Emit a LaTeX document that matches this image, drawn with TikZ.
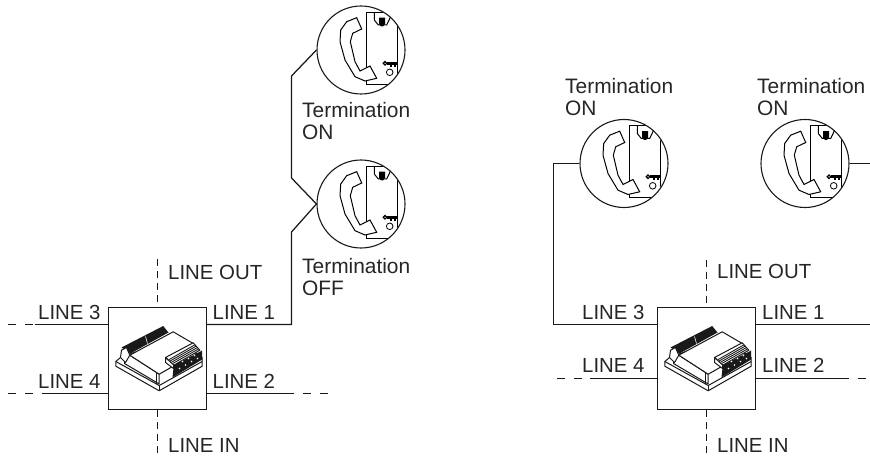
\documentclass[tikz,border=0pt]{standalone}
\usepackage{fontspec}
\setmainfont{Liberation Sans}
\usepackage{xcolor}
\tikzset{
    wire/.style={line width=1.25pt,draw=black!90},
    wiredash/.style={wire,dash pattern=on 8pt off 9pt},
    wirevert/.style={wire,dash pattern=on 7pt off 5pt},
    unitbox/.style={draw=black!90,line width=1.25pt,fill=white,minimum width=98pt,minimum height=102pt,inner sep=0pt},
    termring/.style={circle,draw=black!90,line width=1.1pt,minimum size=88pt,inner sep=0pt},
    linetext/.style={anchor=base west,inner sep=0pt,font=\fontsize{20.4}{22}\selectfont,text=black!85},
    termtext/.style={anchor=base west,inner sep=0pt,align=left,font=\fontsize{20.9}{22}\selectfont,text=black!85},
    phoneicon/.pic={
        \begin{scope}
            \clip (0,0) circle (43.5);
            \draw[line width=1pt] (5.7,19) -- (5.7,-37.7) -- (30,-37.7);
            \draw[line width=1pt] (5.7,30) -- (5.7,34.3) -- (32,34.3);
            \draw[line width=1pt] (36.7,-30) -- (36.7,34.3);
        \end{scope}
        \draw[line width=1pt] (13.3,-37.7) -- (13.3,-30) -- (17.3,-25) -- (25.7,-25) -- (29.5,-33);
        \fill (18,-32.3) -- (24,-32.3) -- (24,-26) -- (22,-23.5) -- (20,-23.5) -- (18,-26) -- cycle;
        \draw[line width=1pt,fill=white] (-4.3,-32.3) -- (0.7,-21) -- (-8.3,-16.7) -- (-10.7,-8.3) -- (-6,11.7) -- (-1,21) -- (9,16) -- (15.7,28.3) -- (4,31) -- (-6,26.7) -- (-16,10) -- (-21,-8.3) -- (-20.3,-20) -- (-14.3,-28.3) -- cycle;
        % key and lock
        \draw[line width=1.2pt] (24,13.3) circle (1.8);
        \fill (25.5,11.8) rectangle (36.7,14.8);
        \fill (29,14) rectangle (31,16.6);
        \fill (33,14) rectangle (35,16.6);
        \draw[line width=0.8pt] (28.7,22.3) circle (3.3);
    },
    deviceicon/.pic={
        \begin{scope}[line width=1pt,draw=black!90,line join=round]
            % base plate
            \draw[fill=white] (-41.7,3) -- (-41.7,7.7) -- (1.7,32.3) -- (44.7,7.7) -- (44.7,-1) -- (15,-20) -- (-37,-1) -- cycle;
            \draw (-41.7,3) -- (1.7,27) -- (44.7,3);
            \draw (1.7,27) -- (1.7,32.3);
            % body
            \draw[fill=white] (-32,-3) -- (-33,5) -- (1.7,25.5) -- (1.7,15.7) -- (-27.7,-3.3) -- cycle;
            \draw (-0.6,14) -- (-0.6,25);
            \draw[fill=white] (-27.7,-3.3) -- (1.7,15.7) -- (15.7,7.7) -- (8,1) -- (35.7,-15) -- (15.7,-26.7) -- cycle;
            % rail at the back
            \fill[black!90] (-36,-11) -- (5.7,-32.5) -- (11,-26) -- (-27,-5) -- cycle;
            \draw[fill=white] (-36,-8.3) -- (-37,-1) -- (-32,4) -- (-27.7,-3.3) -- (-31,-11) -- cycle;
            \draw[white,line width=0.6pt] (-12,-22) -- (-10,-15);
            % terminal block
            \fill[black!90] (16.3,6.7) -- (44.7,-8) -- (44.7,1) -- (15,19) -- cycle;
            \draw[fill=white] (8,-1) -- (35.7,-15.7) -- (42.3,-8.3) -- (16.3,6.7) -- cycle;
            \foreach \s in {0.2,0.4,0.6,0.8}{
                \draw[line width=0.9pt] ($(10,0)!\s!(17,6)$) -- ($(36,-15)!\s!(42,-8)$);
            }
            \draw[fill=white] (8,-1) -- (8,4) -- (16,10) -- (16.3,6.7) -- cycle;
            \foreach \p in {(22,10),(28,6.5),(34,3),(40,0),(25,3),(31,0),(37,-3)}{
                \fill[white] \p circle (0.8);
            }
        \end{scope}
    }
}
\usetikzlibrary{calc}
\begin{document}
\begin{tikzpicture}[x=1pt,y=-1pt]
    \useasboundingbox (0,0) rectangle (870,457);
    % junction units
    \node[unitbox] (unita) at (157.5,358.5) {};
    \node[unitbox] (unitb) at (706.5,358.5) {};
    \pic at (unita) {deviceicon};
    \pic at (unitb) {deviceicon};
    % termination discs
    \foreach \n/\x/\y in {ringa/361/50,ringb/361/204,ringc/624/163.5,ringd/805/163.5}{
        \node[termring] (\n) at (\x,\y) {};
        \pic at (\n) {phoneicon};
    }
    % left side connectors
    \coordinate (ab) at (291.5,324.5);
    \coordinate (ac) at (291.5,232);
    \coordinate (ad) at (291.5,178);
    \coordinate (ae) at (291.5,76);
    \draw[wire] (unita.east |- ab) -- (ab) -- (ac) -- (ringb.west) -- (ad) -- (ae) -- (ringa.west);
    \coordinate (af) at (35,324.5);
    \coordinate (ag) at (8,324.5);
    \draw[wire] (unita.west |- af) -- (af);
    \draw[wiredash] (ag) -- (af);
    \coordinate (ah) at (43,393.5);
    \coordinate (ai) at (8,393.5);
    \draw[wire] (unita.west |- ah) -- (ah);
    \draw[wiredash] (ai) -- (ah);
    \coordinate (aj) at (292,393.5);
    \coordinate (ak) at (328,393.5);
    \draw[wire] (unita.east |- aj) -- (aj);
    \draw[wiredash] (ak) -- (aj);
    \coordinate (al) at (157.5,259);
    \coordinate (am) at (157.5,456);
    \draw[wirevert] (al) -- (unita.north);
    \draw[wirevert] (unita.south) -- (am);
    % right side connectors
    \coordinate (ba) at (553.5,324.5);
    \coordinate (bb) at (553.5,163.5);
    \draw[wire] (unitb.west |- ba) -- (ba) -- (bb) -- (ringc.west);
    \coordinate (bc) at (870,324.5);
    \draw[wire] (unitb.east |- bc) -- (bc);
    \coordinate (bd) at (870,163.5);
    \draw[wire] (ringd.east) -- (bd);
    \coordinate (be) at (590,378.5);
    \coordinate (bf) at (557,378.5);
    \draw[wire] (unitb.west |- be) -- (be);
    \draw[wiredash] (bf) -- (be);
    \coordinate (bg) at (841,378.5);
    \coordinate (bh) at (870,378.5);
    \draw[wire] (unitb.east |- bg) -- (bg);
    \draw[wiredash] (bg) -- (bh);
    \coordinate (bi) at (706.5,260);
    \coordinate (bj) at (706.5,456);
    \draw[wirevert] (bi) -- (unitb.north);
    \draw[wirevert] (unitb.south) -- (bj);
    % line labels
    \foreach \n/\x/\y/\t in {la/38/319/LINE 3,lb/38/388/LINE 4,lc/212.5/319/LINE 1,ld/212.5/388/LINE 2,le/168/279/LINE OUT,lf/168/452/LINE IN,lg/582/319/LINE 3,lh/582/372/LINE 4,li/762/319/LINE 1,lj/762/372/LINE 2,lk/717/278/LINE OUT,ll/717/452/LINE IN}{
        \node[linetext] (\n) at (\x,\y) {\t};
    }
    % termination labels
    \node[termtext] (tma) at (302,140) {Termination\\ON};
    \node[termtext] (tmb) at (302,295) {Termination\\OFF};
    \node[termtext] (tmc) at (565,116) {Termination\\ON};
    \node[termtext] (tmd) at (757,116) {Termination\\ON};
\end{tikzpicture}
\end{document}
